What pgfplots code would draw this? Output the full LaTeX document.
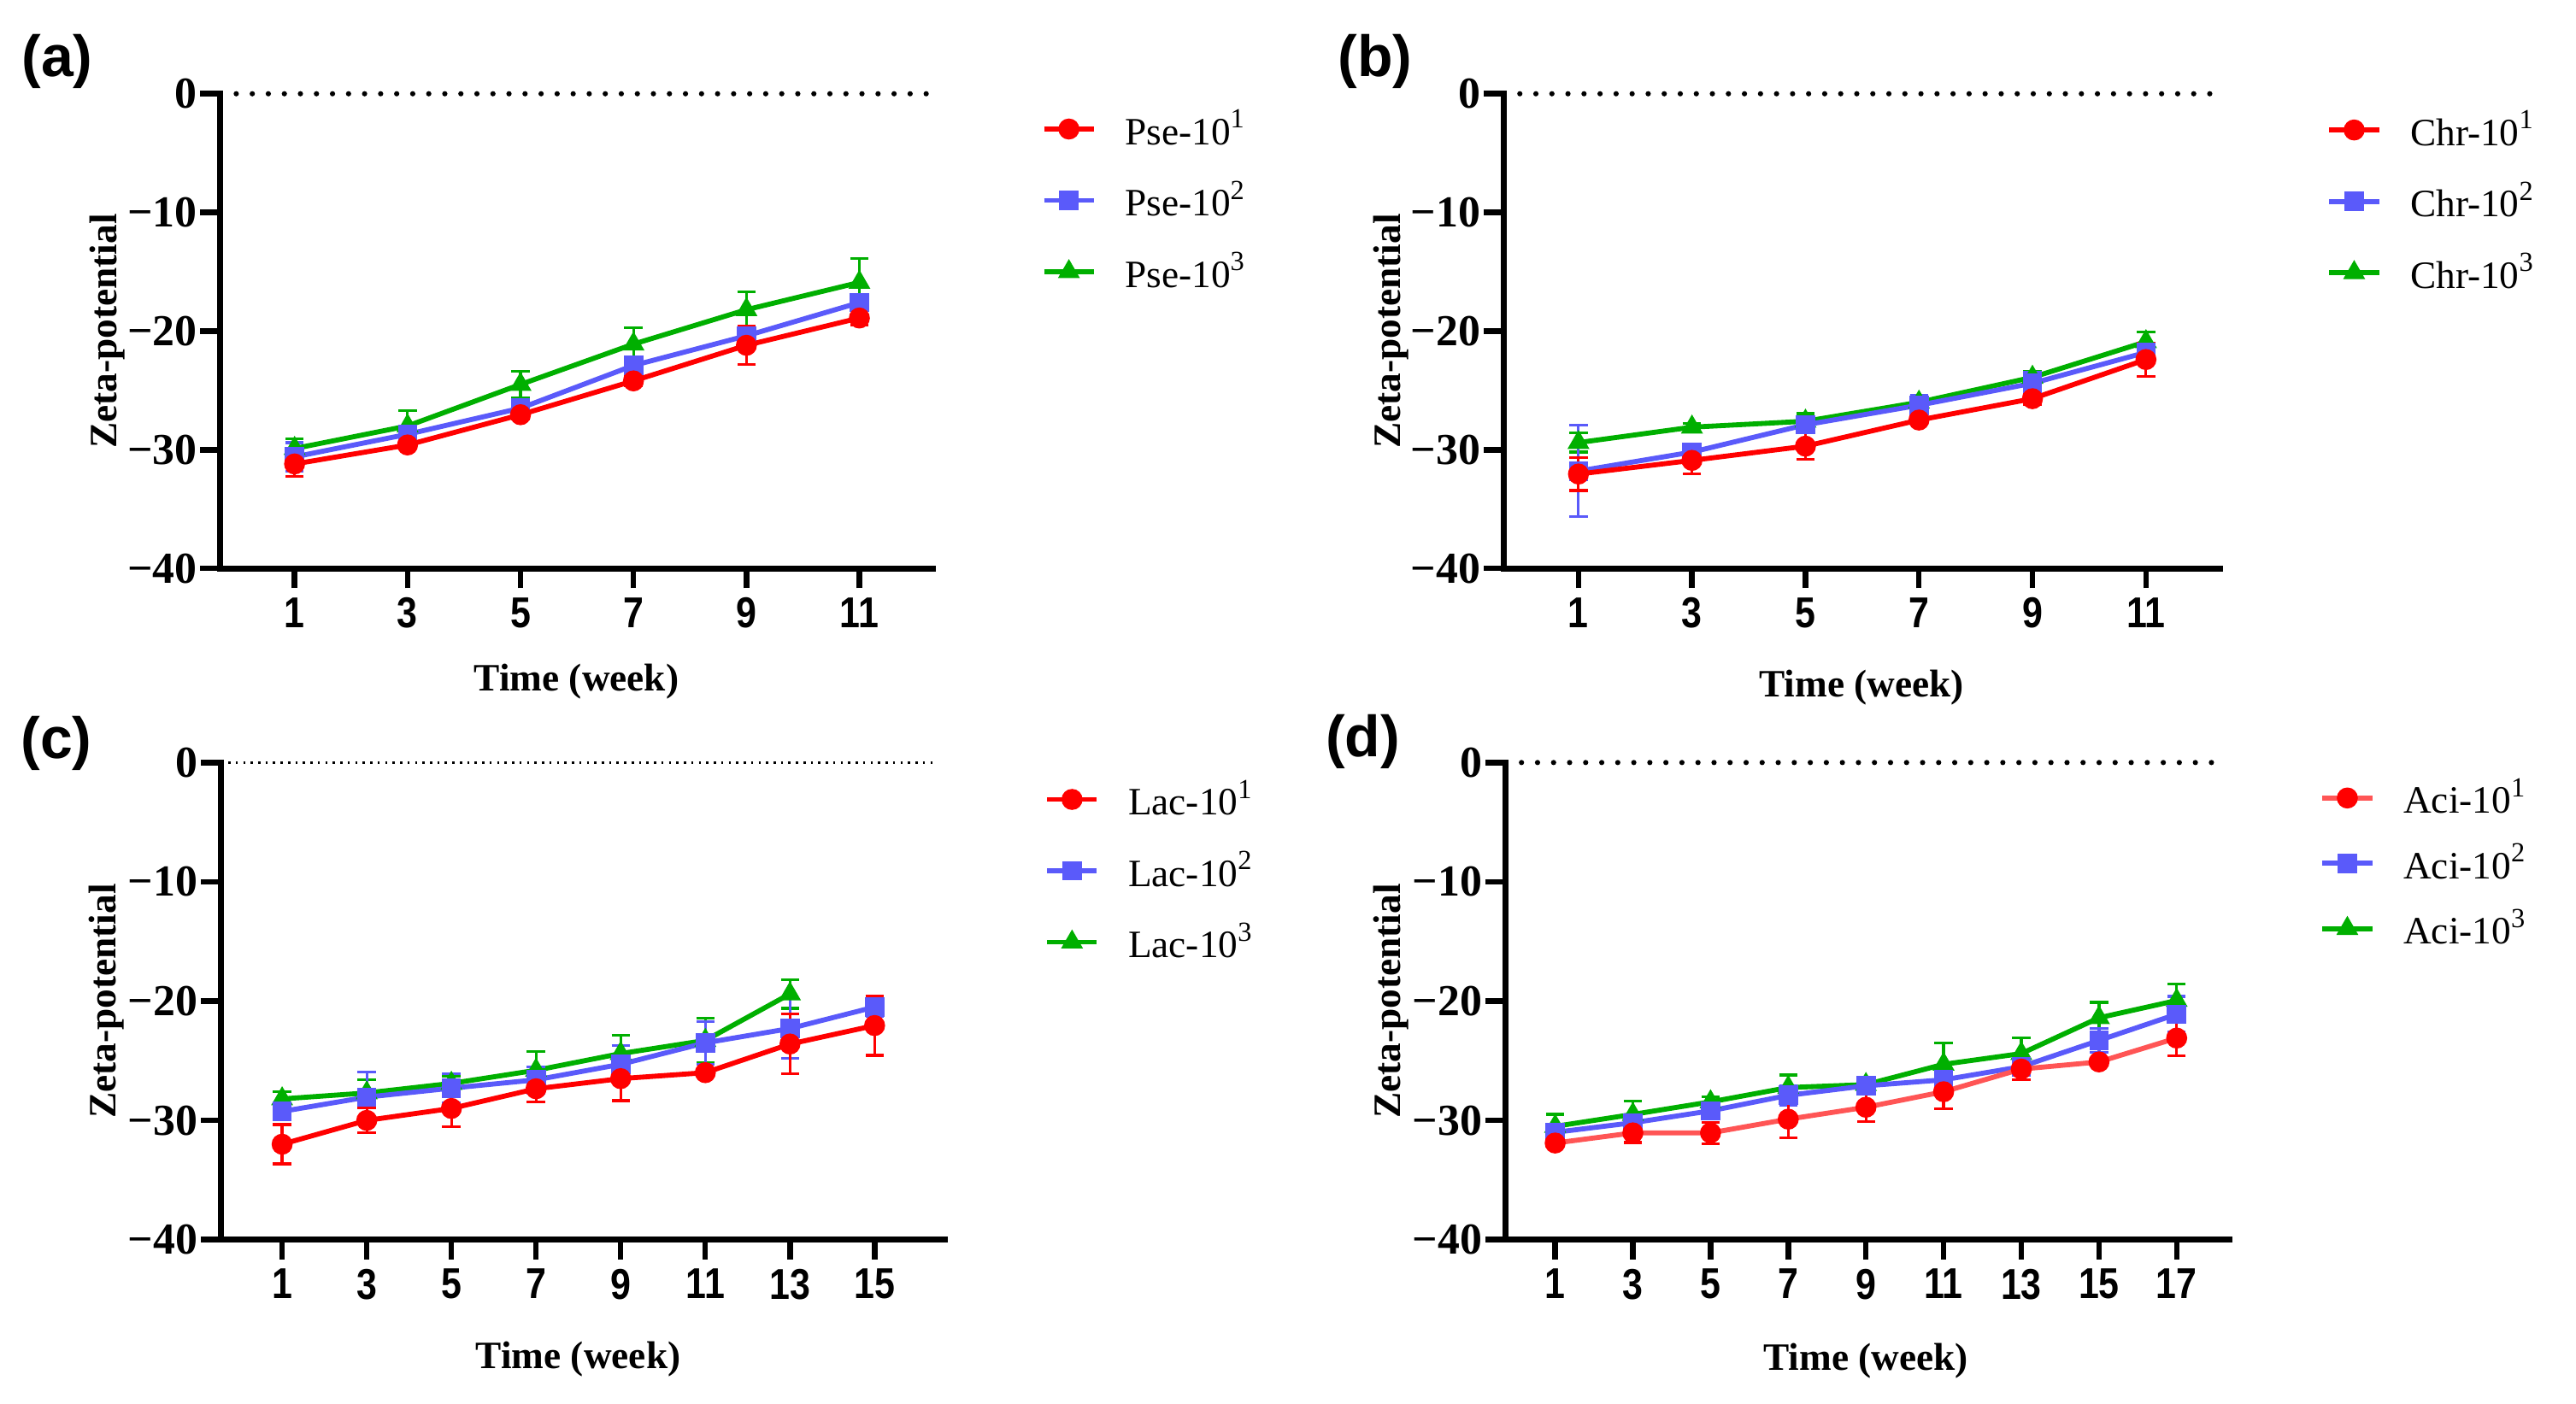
\documentclass[border=0pt]{standalone}
\usepackage{fontspec}
\setmainfont{Liberation Serif}
\newfontfamily\arialfont{Liberation Sans}
\newfontfamily\narrowsans[FakeStretch=0.85]{Liberation Sans}
\usepackage{pgfplots}
\pgfplotsset{compat=1.18}

\definecolor{gpred}{RGB}{255,0,0}
\definecolor{gpredl}{RGB}{255,85,85}
\definecolor{gpblue}{RGB}{90,90,250}
\definecolor{gpgreen}{RGB}{0,175,0}

% tick label boxes, so the font holds in text or math mode
\newcommand\yl[1]{\mbox{\fontsize{8.0}{9}\selectfont\rmfamily\bfseries #1}}
\newcommand\xl[1]{\mbox{\fontsize{7.8}{9}\selectfont\narrowsans\bfseries #1}}

\pgfplotsset{
  zeta/.style={
    scale only axis, clip=false,
    axis x line*=bottom, axis y line*=left,
    axis line style={line width=1.1pt, line cap=rect},
    tick style={black, line width=1pt},
    major tick length=3.6pt, tick align=outside,
    ymin=-40, ymax=0,
    ytick={-40,-30,-20,-10,0},
    yticklabels={\yl{−40},\yl{−30},\yl{−20},\yl{−10},\yl{0}},
    yticklabel style={inner sep=0pt, xshift=-0.4pt},
    xticklabel style={inner sep=0pt, yshift=-1.5pt},
    ylabel={Zeta-potential}, xlabel={Time (week)},
    label style={font=\fontsize{7}{8}\selectfont\bfseries},
    every axis y label/.style={at={(axis description cs:-0.158,0.5)}, rotate=90, anchor=center,
      font=\fontsize{7}{8}\selectfont\bfseries},
    legend cell align=left, reverse legend,
    legend image code/.code={\draw[mark repeat=2,mark phase=2,##1] plot coordinates {(0pt,0pt) (4.5pt,0pt) (9pt,0pt)};},
    legend style={draw=none, fill=none, inner sep=0pt, anchor=north west, yshift=3.2pt, row sep=6.5pt,
      nodes={inner sep=0pt, text height=6pt, text depth=0.4pt, font=\fontsize{7}{8}\selectfont},
      /tikz/every odd column/.append style={column sep=5.2pt}},
  },
  ser/.style={line width=0.9pt, color=#1,
    mark options={solid, fill=#1, draw=#1, line width=0.3pt},
    error bars/y dir=both, error bars/y explicit,
    error bars/error bar style={line width=0.5pt, color=#1},
    error bars/error mark options={rotate=90, mark size=1.65pt, line width=0.5pt, color=#1}},
  zeroline/.style={forget plot, black, line width=0.95pt, line cap=round, dash pattern=on 0pt off 2.9pt},
}

\begin{document}
\begin{tikzpicture}
\path[use as bounding box] (0,0) rectangle (465.6pt,253.8pt);

% (a) Pse
\begin{axis}[zeta, at={(39.8pt,151.05pt)}, anchor=south west,
  width=128.8pt, height=85.8pt, xmin=-0.317, xmax=12.3,
  xtick={1,3,5,7,9,11}, xticklabels={\xl{1},\xl{3},\xl{5},\xl{7},\xl{9},\xl{11}},
  x label style={at={(axis description cs:0.5,-0.239)}, anchor=center},
  legend style={at={(1.151,0.928)}}]
\addplot[zeroline] coordinates {(-0.317,0) (12.3,0)};
\addplot[ser=gpgreen, mark=triangle*, mark size=2pt] table[y error index=2] {
x y e
1 -29.9 0.8
3 -28.0 1.3
5 -24.5 1.1
7 -21.1 1.4
9 -18.2 1.5
11 -15.9 2.0
};
\addlegendentry{Pse-10\textsuperscript{3}}
\addplot[ser=gpblue, mark=square*, mark size=1.6pt] table[y error index=2] {
x y e
1 -30.6 1.2
3 -28.7 0.3
5 -26.5 0.3
7 -22.9 0.6
9 -20.4 0.7
11 -17.6 0.5
};
\addlegendentry{Pse-10\textsuperscript{2}}
\addplot[ser=gpred, mark=*, mark size=1.75pt] table[y error index=2] {
x y e
1 -31.2 1.05
3 -29.6 0.3
5 -27.05 0.4
7 -24.2 0.4
9 -21.2 1.6
11 -18.9 0.6
};
\addlegendentry{Pse-10\textsuperscript{1}}
\end{axis}

% (b) Chr
\begin{axis}[zeta, at={(271.8pt,151.05pt)}, anchor=south west,
  width=129.4pt, height=85.8pt, xmin=-0.316, xmax=12.3,
  xtick={1,3,5,7,9,11}, xticklabels={\xl{1},\xl{3},\xl{5},\xl{7},\xl{9},\xl{11}},
  x label style={at={(axis description cs:0.5,-0.252)}, anchor=center},
  legend style={at={(1.148,0.926)}}]
\addplot[zeroline] coordinates {(-0.316,0) (12.3,0)};
\addplot[ser=gpgreen, mark=triangle*, mark size=2pt] table[y error index=2] {
x y e
1 -29.4 0.8
3 -28.1 0.3
5 -27.6 0.65
7 -26.0 0.3
9 -23.9 0.5
11 -20.9 0.8
};
\addlegendentry{Chr-10\textsuperscript{3}}
\addplot[ser=gpblue, mark=square*, mark size=1.6pt] table[y error index=2] {
x y e
1 -31.8 3.85
3 -30.2 0.7
5 -27.9 0.5
7 -26.25 0.8
9 -24.4 0.9
11 -21.8 0.6
};
\addlegendentry{Chr-10\textsuperscript{2}}
\addplot[ser=gpred, mark=*, mark size=1.75pt] table[y error index=2] {
x y e
1 -32.05 1.38
3 -30.9 1.15
5 -29.7 1.1
7 -27.5 0.3
9 -25.7 0.5
11 -22.4 1.4
};
\addlegendentry{Chr-10\textsuperscript{1}}
\end{axis}

% (c) Lac
\begin{axis}[zeta, at={(39.9pt,29.7pt)}, anchor=south west,
  width=130.8pt, height=86.25pt, xmin=-0.45, xmax=16.65,
  xtick={1,3,5,7,9,11,13,15}, xticklabels={\xl{1},\xl{3},\xl{5},\xl{7},\xl{9},\xl{11},\xl{13},\xl{15}},
  x label style={at={(axis description cs:0.494,-0.250)}, anchor=center},
  legend style={at={(1.137,0.925)}}]
\addplot[forget plot, black, line width=0.4pt, dash pattern=on 0.4pt off 0.95pt] coordinates {(-0.45,0) (16.4,0)};
\addplot[ser=gpgreen, mark=triangle*, mark size=2pt] table[y error index=2] {
x y e
1 -28.2 0.6
3 -27.7 1.1
5 -26.9 0.6
7 -25.8 1.55
9 -24.4 1.55
11 -23.3 1.85
13 -19.4 1.2
};
\addlegendentry{Lac-10\textsuperscript{3}}
\addplot[ser=gpblue, mark=square*, mark size=1.6pt] table[y error index=2] {
x y e
1 -29.25 0.5
3 -28.05 2.1
5 -27.3 1.2
7 -26.6 1.1
9 -25.3 1.6
11 -23.5 1.8
13 -22.3 2.5
15 -20.5 0.8
};
\addlegendentry{Lac-10\textsuperscript{2}}
\addplot[ser=gpred, mark=*, mark size=1.75pt] table[y error index=2] {
x y e
1 -32.0 1.65
3 -30.0 1.05
5 -29.0 1.55
7 -27.35 1.1
9 -26.5 1.85
11 -26.0 0.3
13 -23.6 2.5
15 -22.05 2.5
};
\addlegendentry{Lac-10\textsuperscript{1}}
\end{axis}

% (d) Aci
\begin{axis}[zeta, at={(272.1pt,29.7pt)}, anchor=south west,
  width=130.8pt, height=86.25pt, xmin=-0.28, xmax=18.35,
  xtick={1,3,5,7,9,11,13,15,17}, xticklabels={\xl{1},\xl{3},\xl{5},\xl{7},\xl{9},\xl{11},\xl{13},\xl{15},\xl{17}},
  x label style={at={(axis description cs:0.498,-0.254)}, anchor=center},
  legend style={at={(1.124,0.928)}, row sep=5.4pt}]
\addplot[zeroline] coordinates {(-0.28,0) (18.0,0)};
\addplot[ser=gpgreen, mark=triangle*, mark size=2pt] table[y error index=2] {
x y e
1 -30.5 1.0
3 -29.5 1.1
5 -28.45 0.4
7 -27.25 1.05
9 -27.0 0.3
11 -25.3 1.8
13 -24.4 1.3
15 -21.4 1.3
17 -19.95 1.4
};
\addlegendentry{Aci-10\textsuperscript{3}}
\addplot[ser=gpblue, mark=square*, mark size=1.6pt] table[y error index=2] {
x y e
1 -31.0 0.4
3 -30.2 0.4
5 -29.2 0.5
7 -27.9 0.8
9 -27.1 0.5
11 -26.6 0.6
13 -25.5 0.7
15 -23.3 1.0
17 -21.1 1.5
};
\addlegendentry{Aci-10\textsuperscript{2}}
\addplot[ser=gpred, color=gpredl, mark=*, mark size=1.75pt] table[y error index=2] {
x y e
1 -31.9 0.3
3 -31.05 0.8
5 -31.05 0.9
7 -29.9 1.55
9 -28.9 1.2
11 -27.6 1.4
13 -25.7 0.9
15 -25.1 0.3
17 -23.1 1.5
};
\addlegendentry{Aci-10\textsuperscript{1}}
\end{axis}

\node[font=\fontsize{10.5}{12}\selectfont\arialfont\bfseries] at (10.35pt,242.7pt) {(a)};
\node[font=\fontsize{10.5}{12}\selectfont\arialfont\bfseries] at (248.55pt,242.7pt) {(b)};
\node[font=\fontsize{10.5}{12}\selectfont\arialfont\bfseries] at (10.2pt,119.4pt) {(c)};
\node[font=\fontsize{10.5}{12}\selectfont\arialfont\bfseries] at (246.3pt,119.7pt) {(d)};
\end{tikzpicture}
\end{document}
